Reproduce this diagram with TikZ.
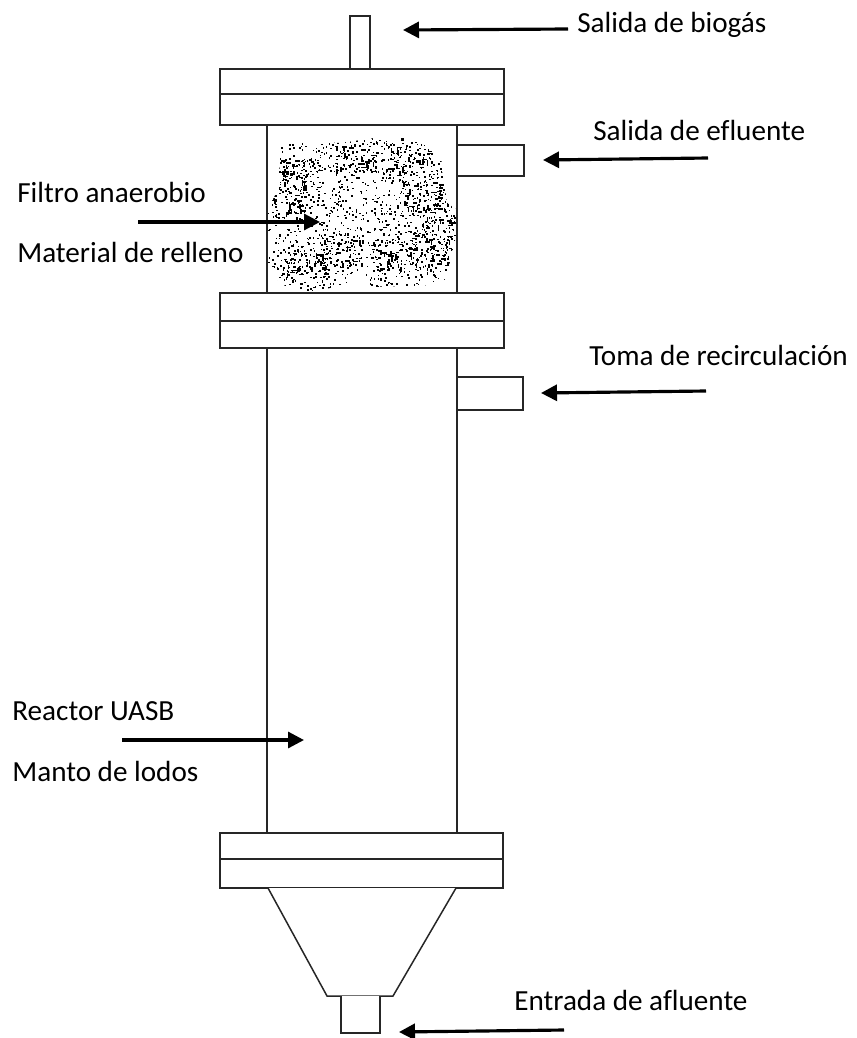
\documentclass[tikz,border=0pt]{standalone}
\usepackage{fontspec}
\setmainfont[Ligatures=NoCommon]{Carlito}
\usetikzlibrary{arrows.meta}

\begin{document}
\begin{tikzpicture}
[x=0.02cm,y=-0.02cm,>={Triangle[length=0.32cm,width=0.32cm]},
 pieza/.style={draw=black!85,line width=0.85pt,fill=white},
 tubo/.style={draw=black!85,line width=0.85pt},
 flecha/.style={->,line width=1.8pt},
 etiqueta/.style={anchor=base west,inner sep=0pt,font=\fontsize{16.6}{20}\selectfont}]

  \useasboundingbox (0,0) rectangle (857,1038);

  % relleno
  \begin{scope}
    \clip (281,146) -- (300,141) -- (340,143) -- (375,138) -- (410,138) -- (440,146) -- (443,175)
       -- (447,203) -- (457,210) -- (457,232) -- (450,262) -- (443,285) -- (370,287) -- (362,268)
       -- (345,285) -- (305,293) -- (283,285) -- (268,270) -- (268,208) -- (278,190) -- cycle;
    \pgfmathsetseed{4711}
    \foreach \i in {1,...,1300}
      \fill[black] ({265+rnd*195},{136+rnd*158}) rectangle +(1.6,1.6);
    \foreach \cx/\cy in {300/172,355/155,410/160,290/205,305/265,340/250,395/255,430/250,445/215,420/195}
      \foreach \i in {1,...,50}
        \fill[black] ({\cx-22+rnd*44},{\cy-17+rnd*34}) rectangle +(1.6,1.6);
    \foreach \cx/\cy in {300/172,355/155,410/160,290/205,305/265,340/250,395/255,430/250,445/215,420/195}
      \foreach \i in {1,...,7}{
        \fill[black] ({\cx-20+rnd*40},{\cy-15+rnd*30}) rectangle +(5,1.6);
        \fill[black] ({\cx-20+rnd*40},{\cy-15+rnd*30}) rectangle +(1.6,5);
      }
  \end{scope}

  % cuerpo
  \draw[pieza] (350,69) |- (370,16) -- (370,69);
  \draw[pieza] (457,145) -| (524,176) -- (457,176);
  \draw[pieza] (457,377) -| (523,410) -- (457,410);
  \draw[tubo] (267,125) -- (267,293) (457,125) -- (457,293);
  \draw[tubo] (267,348) -- (267,833) (457,348) -- (457,833);

  % bridas
  \foreach \yA/\yB/\yC/\xD in {69/94/125/504,293/321/348/504,833/859/888/503}{
    \draw[pieza] (220,\yA) rectangle (\xD,\yC);
    \draw[pieza] (220,\yB) -- (\xD,\yB);
  }

  % cono
  \draw[pieza] (268,888) -- (327,996) -- (393,996) -- (456,888);
  \draw[pieza] (341,996) |- (380,1033) -- (380,996);

  \node[etiqueta] (biogas)   at (577,32)   {Salida de biogás};
  \node[etiqueta] (efluente) at (593,140)  {Salida de efluente};
  \node[etiqueta] (filtro)   at (17,202)   {Filtro anaerobio};
  \node[etiqueta] (relleno)  at (17,262)   {Material de relleno};
  \node[etiqueta] (toma)     at (589,365)  {Toma de recirculación};
  \node[etiqueta] (uasb)     at (12,720)   {Reactor UASB};
  \node[etiqueta] (lodos)    at (12,781)   {Manto de lodos};
  \node[etiqueta] (afluente) at (514,1010) {Entrada de afluente};

  \coordinate (b1) at (568,29);   \coordinate (b2) at (403,30);
  \coordinate (e1) at (708,158);  \coordinate (e2) at (543,160);
  \coordinate (f1) at (138,222);  \coordinate (f2) at (320,222);
  \coordinate (t1) at (706,391);  \coordinate (t2) at (541,393);
  \coordinate (u1) at (122,740);  \coordinate (u2) at (304,740);
  \coordinate (a1) at (564,1030); \coordinate (a2) at (399,1032);

  \draw[flecha] (b1) -- (b2);
  \draw[flecha] (e1) -- (e2);
  \draw[flecha] (f1) -- (f2);
  \draw[flecha] (t1) -- (t2);
  \draw[flecha] (u1) -- (u2);
  \draw[flecha] (a1) -- (a2);
\end{tikzpicture}
\end{document}
